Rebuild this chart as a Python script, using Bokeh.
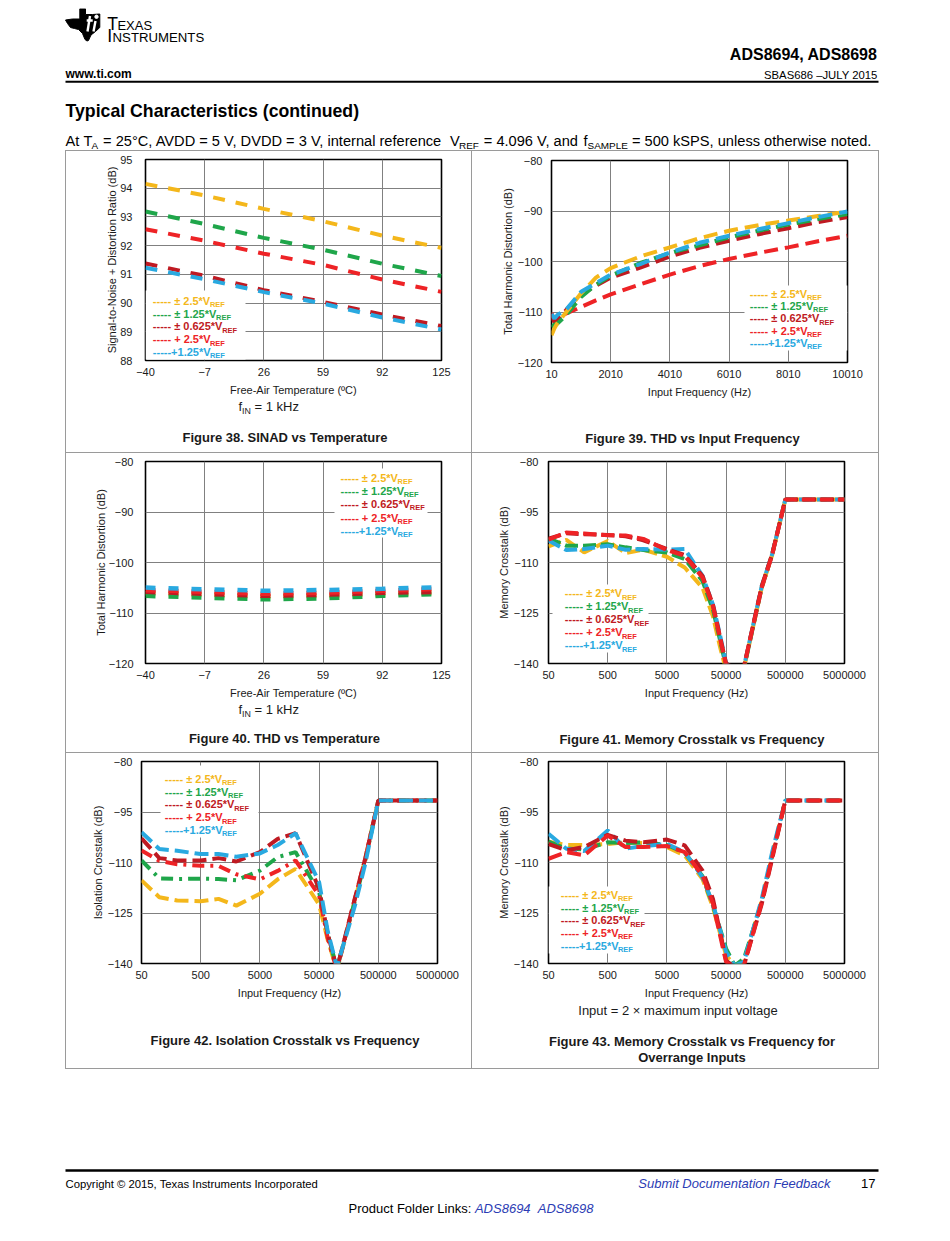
from bokeh.plotting import figure
from bokeh.models import (Range1d, FixedTicker, CustomJSTickFormatter, Label,
                          BoxAnnotation, Spacer)
from bokeh.layouts import column, row
from bokeh.embed import file_html
from bokeh.resources import INLINE

FONT = "Liberation Sans"
INK = "#1a1a1a"
GRID = "#808080"
RULE = "#9a9a9a"
BLUE = "#2b3cb4"

# ---------------------------------------------------------------- data
series_keys = ["pm25", "pm125", "pm0625", "p25", "p125"]
series_colors = {"pm25": "#F4B71B", "pm125": "#1FA64A", "pm0625": "#BF1A22",
                 "p25": "#EE2326", "p125": "#29A9E0"}
legend_texts = {"pm25": "----- ± 2.5*V", "pm125": "----- ± 1.25*V",
                "pm0625": "----- ± 0.625*V", "p25": "----- + 2.5*V",
                "p125": "-----+1.25*V"}

# Figure 38: SINAD vs temperature
temp_38 = [-40, -7, 26, 59, 92, 125]
sinad_38 = {
    "pm25":   [94.15, 93.75, 93.28, 92.85, 92.35, 91.92],
    "pm125":  [93.19, 92.75, 92.27, 91.86, 91.37, 90.94],
    "pm0625": [91.38, 90.95, 90.45, 90.04, 89.60, 89.20],
    "p25":    [92.57, 92.17, 91.72, 91.33, 90.82, 90.39],
    "p125":   [91.23, 90.83, 90.38, 89.98, 89.50, 89.08],
}
temp_ticks = [-40, -7, 26, 59, 92, 125]
sinad_ticks = [88, 89, 90, 91, 92, 93, 94, 95]

# Figure 39: THD vs input frequency
freq_39 = [10, 110, 210, 510, 1010, 1510, 2010, 3010, 4010, 5010, 6010, 7010, 8010, 9010, 10010]
thd_39 = {
    "pm25":   [-114.6, -113.2, -112.2, -110.0, -106.3, -103.2, -101.3, -99.0, -97.2, -95.4, -93.9, -92.8, -91.9, -91.0, -90.1],
    "pm125":  [-113.0, -112.5, -112.3, -110.6, -107.0, -104.6, -102.8, -100.3, -98.3, -96.8, -95.2, -93.9, -92.7, -91.6, -90.6],
    "pm0625": [-111.0, -112.0, -111.5, -109.6, -106.5, -104.8, -103.2, -101.2, -99.0, -97.3, -95.9, -94.6, -93.4, -92.2, -91.2],
    "p25":    [-110.2, -111.8, -111.0, -110.3, -109.0, -107.7, -106.5, -104.5, -102.6, -100.9, -99.5, -98.3, -97.2, -96.0, -94.9],
    "p125":   [-110.4, -111.3, -110.6, -109.5, -106.0, -104.3, -102.6, -100.5, -98.2, -96.3, -94.9, -93.6, -92.4, -91.2, -90.1],
}
freq_ticks_39 = [10, 2010, 4010, 6010, 8010, 10010]
thd_ticks = [-120, -110, -100, -90, -80]

# Figure 40: THD vs temperature
temp_40 = [-40, -7, 26, 59, 92, 125]
thd_40 = {
    "pm25":   [-106.1, -106.4, -106.75, -106.6, -106.3, -106.0],
    "pm125":  [-106.6, -106.95, -107.3, -107.1, -106.6, -106.2],
    "pm0625": [-105.8, -106.2, -106.6, -106.4, -106.0, -105.8],
    "p25":    [-105.5, -105.8, -106.2, -106.0, -105.6, -105.2],
    "p125":   [-104.97, -105.3, -105.6, -105.45, -105.2, -104.9],
}

# Figure 41: memory crosstalk vs frequency
freq_41 = [50, 100, 200, 500, 1000, 2000, 5000, 10000, 20000, 30000, 40000, 50000,
           70000, 100000, 200000, 300000, 500000, 1000000, 5000000]
mem_41 = {
    "pm25":   [-105.2, -103.3, -107.0, -103.6, -107.2, -106.2, -108.3, -111.5, -117.5, -126.0, -135.5, -142.0, -142.5, -141.5, -117.5, -107.8, -91.3, -91.3, -91.3],
    "pm125":  [-102.8, -105.0, -105.0, -104.6, -105.5, -106.3, -107.0, -109.0, -115.5, -124.0, -133.5, -141.0, -142.5, -141.5, -117.3, -107.6, -91.3, -91.3, -91.3],
    "pm0625": [-102.9, -101.3, -101.6, -101.8, -102.2, -103.4, -106.0, -107.8, -114.0, -122.5, -132.5, -140.0, -141.5, -141.0, -117.0, -107.5, -91.3, -91.3, -91.3],
    "p25":    [-103.2, -101.1, -101.4, -101.9, -102.0, -103.0, -106.3, -108.0, -114.5, -123.0, -133.0, -140.5, -141.5, -141.0, -117.5, -107.8, -91.3, -91.3, -91.3],
    "p125":   [-103.5, -106.3, -106.0, -105.0, -106.2, -106.0, -106.2, -106.0, -114.0, -122.5, -132.0, -140.0, -141.5, -141.0, -117.0, -107.5, -91.3, -91.3, -91.3],
}
freq_ticks_log = [50, 500, 5000, 50000, 500000, 5000000]
xtalk_ticks = [-140, -125, -110, -95, -80]

# Figure 42: isolation crosstalk vs frequency
freq_42 = [50, 100, 200, 500, 1000, 2000, 5000, 10000, 20000, 50000, 70000, 100000,
           200000, 300000, 500000, 1000000, 5000000]
iso_42 = {
    "pm25":   [-115.3, -120.3, -121.3, -121.5, -120.8, -122.8, -119.3, -115.0, -111.9, -122.5, -133.0, -142.0, -121.5, -109.0, -91.6, -91.6, -91.6],
    "pm125":  [-109.4, -114.7, -114.9, -114.8, -114.9, -115.3, -112.4, -108.4, -106.9, -118.8, -131.2, -141.5, -121.5, -109.5, -91.6, -91.6, -91.6],
    "pm0625": [-102.8, -108.7, -109.4, -109.4, -108.7, -109.7, -106.9, -103.0, -101.3, -117.8, -131.2, -141.6, -120.8, -108.9, -91.6, -91.6, -91.6],
    "p25":    [-106.4, -109.5, -110.5, -111.0, -111.0, -113.5, -115.0, -112.5, -109.4, -119.8, -132.5, -142.0, -121.0, -109.0, -91.6, -91.6, -91.6],
    "p125":   [-101.0, -106.0, -106.5, -107.5, -107.5, -108.3, -107.3, -104.8, -101.3, -115.8, -130.5, -141.0, -123.0, -110.5, -91.6, -91.6, -91.6],
}

# Figure 43: memory crosstalk vs frequency, overrange inputs
freq_43 = [50, 100, 200, 500, 1000, 2000, 5000, 10000, 20000, 30000, 50000, 70000,
           100000, 200000, 300000, 500000, 1000000, 5000000]
over_43 = {
    "pm25":   [-103.8, -104.8, -104.8, -104.5, -104.0, -104.2, -105.4, -107.9, -114.9, -123.3, -137.6, -140.6, -139.6, -121.3, -108.1, -91.6, -91.6, -91.6],
    "pm125":  [-103.8, -105.9, -106.1, -104.0, -104.2, -104.0, -104.8, -107.1, -114.1, -122.8, -135.6, -140.6, -138.6, -121.8, -107.9, -91.6, -91.6, -91.6],
    "pm0625": [-104.5, -106.4, -105.4, -101.8, -103.5, -104.0, -103.2, -104.9, -112.4, -120.8, -139.1, -141.1, -140.6, -122.3, -108.9, -91.6, -91.6, -91.6],
    "p25":    [-108.9, -106.9, -107.9, -102.0, -105.4, -105.4, -105.1, -106.9, -113.9, -122.3, -139.6, -141.4, -140.6, -121.8, -108.4, -91.6, -91.6, -91.6],
    "p125":   [-101.5, -105.9, -106.6, -100.5, -105.9, -105.1, -104.5, -106.9, -114.4, -122.3, -136.6, -140.6, -139.5, -120.8, -106.9, -91.6, -91.6, -91.6],
}

# ---------------------------------------------------------------- text metrics (Arial-compatible)
_UP = "ABCDEFGHIJKLMNOPQRSTUVWXYZ"
_LO = "abcdefghijklmnopqrstuvwxyz"
_REG = dict(zip(_UP, [667, 667, 722, 722, 667, 611, 778, 722, 278, 500, 667, 556, 833, 722, 778, 667, 778, 722, 667, 611, 722, 667, 944, 667, 667, 611]))
_REG.update(zip(_LO, [556, 556, 500, 556, 556, 278, 556, 556, 222, 222, 500, 222, 833, 556, 556, 556, 556, 333, 500, 278, 556, 500, 722, 500, 500, 500]))
_BLD = dict(zip(_UP, [722, 722, 722, 722, 667, 611, 778, 722, 278, 556, 722, 611, 833, 722, 778, 667, 778, 722, 667, 611, 722, 667, 944, 667, 667, 611]))
_BLD.update(zip(_LO, [556, 611, 556, 611, 556, 333, 611, 611, 278, 278, 556, 278, 889, 611, 611, 611, 611, 389, 556, 333, 611, 556, 778, 556, 556, 500]))
_PUN = {" ": 278, "(": 333, ")": 333, "*": 389, "+": 584, ",": 278, "-": 333, ".": 278,
        ":": 278, "=": 584, "±": 584, "×": 584, "−": 584, "–": 556, "°": 400, "©": 737,
        "º": 365, "/": 278}


def tw(s, bold=False):
    tab = _BLD if bold else _REG
    tot = 0
    for ch in s:
        if ch.isdigit():
            tot += 556
        elif ch in tab:
            tot += tab[ch]
        else:
            tot += _PUN.get(ch, 556)
    return tot / 1000.0


SUB = 0.68
MID = 0.35  # cap centre above baseline, in em


def put(p, x, yb, text, size, color=INK, style="normal", align="left", font=FONT,
        units="data", ydown=True):
    ym = yb - MID * size if ydown else yb + MID * size
    p.add_layout(Label(x=x, y=ym, x_units=units, y_units=units, text=text, text_font=font,
                       text_font_size=f"{size:.2f}px", text_font_style=style,
                       text_color=color, text_align=align, text_baseline="middle"))


def rich(p, x, yb, runs, size, color=INK, style="normal", align="left",
         units="data", ydown=True, split=False):
    bold = "bold" in style
    widths = [tw(t, bold) * (size if k == "n" else size * SUB) for t, k in runs]
    total = sum(widths)
    x0 = x - total / 2 if align == "center" else (x - total if align == "right" else x)
    drop = size * 0.22
    prev = ""
    for i, ((t, k), w) in enumerate(zip(runs, widths)):
        s = size if k == "n" else size * SUB
        y = yb if k == "n" else (yb + drop if ydown else yb - drop)
        kern = -0.06 * size if (k == "s" and prev[-1:] in ("T", "V")) else 0.0
        body = t.lstrip(" ")
        lead = (len(t) - len(body)) * tw(" ", bold) * s  # svg drops leading blanks
        nxt_sub = i + 1 < len(runs) and runs[i + 1][1] == "s"
        if split and k == "n" and nxt_sub and " " in body:
            # last word sits right before a subscript: anchor it on its own
            cut = body.rfind(" ")
            head, tail = body[:cut], body[cut + 1:]
            put(p, x0 + lead, y, head, s, color, style, "left", FONT, units, ydown)
            put(p, x0 + lead + tw(body[:cut + 1], bold) * s, y, tail, s, color, style,
                "left", FONT, units, ydown)
        else:
            put(p, x0 + lead + kern, y, body, s, color, style, "left", FONT, units, ydown)
        x0 += w
        prev = t


FMT_CODE = "return (tick < 0 ? '\\u2212' : '') + Math.abs(Math.round(tick)).toString();"


def make_chart(cell_w, hc, fl, ft, fw, fh, xr, yr, xticks, yticks, xlabel,
               ylabel, ytick_sd, ylab_sd, log_x=False):
    p = figure(width=cell_w, height=hc, x_range=Range1d(*xr), y_range=Range1d(*yr),
               x_axis_type="log" if log_x else "linear", title=None,
               toolbar_location=None, output_backend="svg", frame_align=False,
               min_border_left=fl, min_border_top=ft,
               min_border_right=cell_w - fl - fw, min_border_bottom=hc - ft - fh)
    xt = FixedTicker(ticks=xticks, minor_ticks=[])
    yt = FixedTicker(ticks=yticks, minor_ticks=[])
    p.xaxis.ticker = xt
    p.yaxis.ticker = yt
    p.xgrid.ticker = xt
    p.ygrid.ticker = yt
    p.xaxis.formatter = CustomJSTickFormatter(code=FMT_CODE)
    p.yaxis.formatter = CustomJSTickFormatter(code=FMT_CODE)
    for ax in (p.xaxis[0], p.yaxis[0]):
        ax.axis_line_color = None
        ax.major_tick_line_color = None
        ax.minor_tick_line_color = None
        ax.major_tick_out = 0
        ax.major_tick_in = 0
        ax.minor_tick_out = 0
        ax.minor_tick_in = 0
        ax.major_label_text_font = FONT
        ax.major_label_text_font_size = "11px"
        ax.major_label_text_color = INK
        ax.axis_label_text_font = FONT
        ax.axis_label_text_font_size = "11px"
        ax.axis_label_text_font_style = "normal"
        ax.axis_label_text_color = INK
    p.xaxis.axis_label = xlabel
    p.yaxis.axis_label = ylabel
    p.xaxis.major_label_standoff = 7
    p.xaxis.axis_label_standoff = 5
    p.yaxis.major_label_standoff = int(round(ytick_sd))
    p.yaxis.axis_label_standoff = int(round(ylab_sd))
    p.grid.grid_line_color = GRID
    p.grid.grid_line_width = 1
    p.outline_line_color = "black"
    p.outline_line_width = 1.6
    p.background_fill_color = "white"
    p.border_fill_color = "white"
    return p


def blank(x0, y0, w, h):
    """Figure whose data coordinates are page pixels (y downwards)."""
    p = figure(width=w, height=h, x_range=Range1d(x0, x0 + w), y_range=Range1d(y0 + h, y0),
               x_axis_location=None, y_axis_location=None, title=None, frame_align=False,
               toolbar_location=None, output_backend="svg", min_border=0)
    p.grid.visible = False
    p.outline_line_color = None
    p.background_fill_color = "white"
    p.border_fill_color = "white"
    return p


def draw(p, x, data, order, dashes, width=4):
    for k in order:
        d = dashes[k] if isinstance(dashes, dict) else dashes
        p.line(x, data[k], line_color=series_colors[k], line_width=width, line_dash=d)


def legend(p, x0, y0, step, box):
    l, r, b, t = box
    p.add_layout(BoxAnnotation(left=l, right=r, bottom=b, top=t, left_units="screen",
                               right_units="screen", bottom_units="screen", top_units="screen",
                               fill_color="white", fill_alpha=1.0, line_color=None))
    for i, k in enumerate(series_keys):
        rich(p, x0, y0 - i * step, [(legend_texts[k], "n"), ("REF", "s")], 11,
             series_colors[k], "bold", units="screen", ydown=False)


def caption(p, x, yb, text):
    put(p, x, yb, text, 13, INK, "bold", "center")


# ---------------------------------------------------------------- header
hdr = blank(8, 8, 934, 142)
hdr.patch([79.3, 85, 85, 92, 99.3, 99.3, 95, 90.5, 88, 86.5, 84.5, 82, 78, 74, 70, 67, 65, 72, 79.3],
          [8.3, 8.3, 14, 14, 13.5, 27, 31, 34.5, 40, 40.5, 39, 33, 29, 28, 27, 23, 19.5, 18.5, 18.5],
          color="black")
hdr.segment([89.5, 86.2, 95], [15.5, 20, 20.5], [87, 92.2, 93], [31, 20, 31],
            line_color="white", line_width=2.4)
hdr.scatter([96], [16.3], size=3.4, color="white", marker="circle")
put(hdr, 106.7, 29.3, "T", 17.6, "black")
put(hdr, 106.7 + tw("T") * 17.6 - 0.5, 29.3, "EXAS", 13, "black")
put(hdr, 106.7, 41.3, "I", 17.6, "black")
put(hdr, 106.7 + tw("I") * 17.6 + 0.5, 41.3, "NSTRUMENTS", 13.2, "black")
put(hdr, 877, 60, "ADS8694, ADS8698", 16, "black", "bold", "right")
put(hdr, 65, 78, "www.ti.com", 12, "black", "bold")
put(hdr, 877, 78, "SBAS686 –JULY 2015", 11.3, "black", "normal", "right")
hdr.line([65, 878], [81.2, 81.2], line_color="black", line_width=2)
put(hdr, 65, 117, "Typical Characteristics (continued)", 17.7, "black", "bold")
cond_runs = [("At T", "n"), ("A", "s"),
             (" = 25°C, AVDD = 5 V, DVDD = 3 V, internal reference V", "n"), ("REF", "s"),
             (" = 4.096 V, and f", "n"), ("SAMPLE", "s"),
             (" = 500 kSPS, unless otherwise noted.", "n")]
cond_w = sum(tw(t) * (1 if k == "n" else SUB) for t, k in cond_runs)
rich(hdr, 65, 145.3, cond_runs, 806 / cond_w, "black", split=True)

# ---------------------------------------------------------------- charts (cells)
# Figure 38
c38 = make_chart(405, 248, 79, 8, 296, 201, (-40, 125), (88, 95), temp_ticks, sinad_ticks,
                 "Free-Air Temperature (ºC)", "Signal-to-Noise + Distortion Ratio (dB)", 13, -1)
draw(c38, temp_38, sinad_38, series_keys, "12 11", 4)
legend(c38, 7.3, 56, 12.9, (0, 100, 1, 70))
n38 = blank(66, 399, 405, 53)
rich(n38, 238, 410.7, [("f", "n"), ("IN", "s"), (" = 1 kHz", "n")], 13, INK)
caption(n38, 284.5, 441.7, "Figure 38. SINAD vs Temperature")

# Figure 39
c39 = make_chart(406, 249, 79, 9, 296, 202, (10, 10010), (-120, -80), freq_ticks_39, thd_ticks,
                 "Input Frequency (Hz)", "Total Harmonic Distortion (dB)", 9, 1)
draw(c39, freq_39, thd_39, ["p25", "pm0625", "pm125", "pm25", "p125"], "14 7", 4)
legend(c39, 198.3, 65, 12.4, (193, 296, 12, 77))
n39 = blank(472, 400, 406, 52)
caption(n39, 692, 442.3, "Figure 39. THD vs Input Frequency")

# Figure 40
c40 = make_chart(405, 248, 79, 8, 296, 202, (-40, 125), (-120, -80), temp_ticks, thd_ticks,
                 "Free-Air Temperature (ºC)", "Total Harmonic Distortion (dB)", 12, -1)
draw(c40, temp_40, thd_40, series_keys, "10 13", 4.5)
legend(c40, 195, 182, 13.3, (189, 282, 126, 195))
n40 = blank(66, 701, 405, 51)
rich(n40, 238, 713.7, [("f", "n"), ("IN", "s"), (" = 1 kHz", "n")], 13, INK)
caption(n40, 284, 743, "Figure 40. THD vs Temperature")

# Figure 41
c41 = make_chart(406, 248, 76, 8, 296, 202, (50, 5000000), (-140, -80), freq_ticks_log,
                 xtalk_ticks, "Input Frequency (Hz)", "Memory Crosstalk (dB)", 10, 1, log_x=True)
draw(c41, freq_41, mem_41, ["pm25", "pm125", "p125", "pm0625", "p25"], "13 5", 4)
legend(c41, 16.3, 66.3, 13, (4, 100, 11, 79))
n41 = blank(472, 701, 406, 51)
caption(n41, 691.5, 743.7, "Figure 41. Memory Crosstalk vs Frequency")

# Figure 42
c42 = make_chart(405, 249, 75, 8, 296, 202, (50, 5000000), (-140, -80), freq_ticks_log,
                 xtalk_ticks, "Input Frequency (Hz)", "Isolation Crosstalk (dB)", 9, 1, log_x=True)
draw(c42, freq_42, iso_42, ["pm25", "pm125", "p25", "pm0625", "p125"],
     {"pm25": "14 6", "pm125": "12 6 3 6", "pm0625": "14 6", "p25": "12 6 3 6", "p125": "14 6"}, 4)
legend(c42, 23.3, 181, 12.9, (19, 117, 126, 198))
n42 = blank(66, 1002, 405, 66)
caption(n42, 284.5, 1044.3, "Figure 42. Isolation Crosstalk vs Frequency")

# Figure 43
c43 = make_chart(406, 249, 76, 8, 296, 202, (50, 5000000), (-140, -80), freq_ticks_log,
                 xtalk_ticks, "Input Frequency (Hz)", "Memory Crosstalk (dB)", 10, 1, log_x=True)
draw(c43, freq_43, over_43, ["pm25", "pm125", "p125", "pm0625", "p25"], "14 6", 4)
legend(c43, 12.3, 64.7, 12.75, (0, 96, 10, 77))
n43 = blank(472, 1002, 406, 66)
put(n43, 677.5, 1014.3, "Input = 2 × maximum input voltage", 13, INK, "normal", "center")
caption(n43, 691.5, 1045.3, "Figure 43. Memory Crosstalk vs Frequency for")
caption(n43, 691.5, 1061.3, "Overrange Inputs")

# ---------------------------------------------------------------- footer
ftr = blank(8, 1069, 934, 164)
ftr.line([65, 878], [1170, 1170], line_color="black", line_width=2.5)
put(ftr, 65, 1187.5, "Copyright © 2015, Texas Instruments Incorporated", 11.3, "black")
put(ftr, 830, 1188, "Submit Documentation Feedback", 13, BLUE, "italic", "right")
put(ftr, 875, 1188, "17", 13, "black", "normal", "right")
pf = "Product Folder Links: "
x_pf = 348 + tw(pf) * 13
put(ftr, 348, 1212.5, pf.strip(), 13, "black")
put(ftr, x_pf, 1212.5, "ADS8694", 13, BLUE, "italic")
put(ftr, x_pf + tw("ADS8694  ") * 13, 1212.5, "ADS8698", 13, BLUE, "italic")


# ---------------------------------------------------------------- page layout
def vline(h):
    return Spacer(width=1, height=h, styles={"background-color": RULE})


def hline():
    return row(Spacer(width=57, height=1),
               Spacer(width=814, height=1, styles={"background-color": RULE}))


def cell_row(a, b, h):
    return row(Spacer(width=57, height=h), vline(h), a, vline(h), b, vline(h))


content = column(hdr, hline(),
                 cell_row(column(c38, n38), column(c39, n39), 301), hline(),
                 cell_row(column(c40, n40), column(c41, n41), 299), hline(),
                 cell_row(column(c42, n42), column(c43, n43), 315), hline(),
                 ftr)
page = column(Spacer(width=942, height=8), row(Spacer(width=8, height=1225), content))

with open("out.html", "w", encoding="utf-8") as fh:
    fh.write(file_html(page, INLINE))
